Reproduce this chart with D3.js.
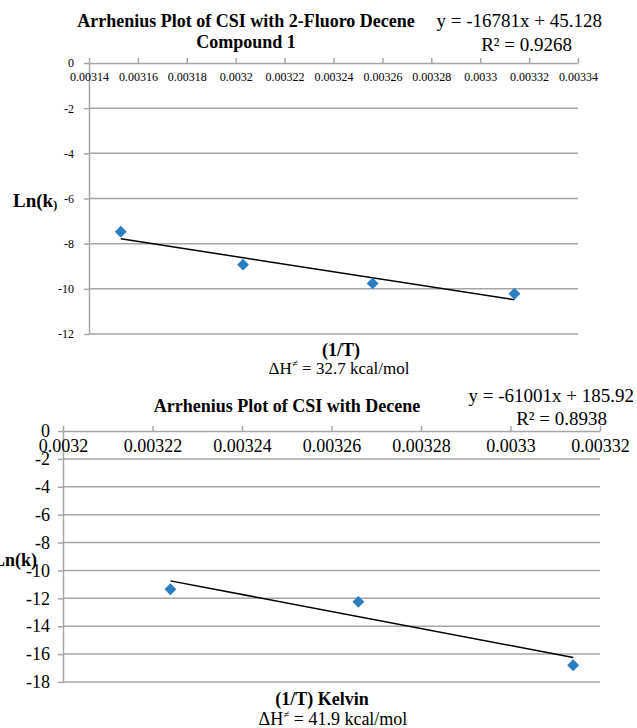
<!DOCTYPE html>
<html>
<head>
<meta charset="utf-8">
<script src="https://cdn.jsdelivr.net/npm/d3@7"></script>
<style>
  body { margin: 0; background: #fff; }
  svg text { font-family: "Liberation Serif", "DejaVu Serif", serif; fill: #000; }
</style>
</head>
<body>
<div id="chart"></div>
<script>
let width = 637;
let height = 728;

// top chart: 2-fluoro decene (compound 1)
let fluoroX = [0.003153, 0.003203, 0.003256, 0.003314];
let fluoroLnK = [-7.47, -8.93, -9.76, -10.22];
let fluoroFit = [-16781, 45.128];
let fluoroXTicks = [0.00314, 0.00316, 0.00318, 0.0032, 0.00322, 0.00324, 0.00326, 0.00328, 0.0033, 0.00332, 0.00334];
let fluoroXLabels = ["0.00314", "0.00316", "0.00318", "0.0032", "0.00322", "0.00324", "0.00326", "0.00328", "0.0033", "0.00332", "0.00334"];
let fluoroYTicks = [0, -2, -4, -6, -8, -10, -12];

// bottom chart: decene
let deceneX = [0.003224, 0.003266, 0.003314];
let deceneLnK = [-11.35, -12.25, -16.8];
let deceneFit = [-61001, 185.92];
let deceneXTicks = [0.0032, 0.00322, 0.00324, 0.00326, 0.00328, 0.0033, 0.00332];
let deceneXLabels = ["0.0032", "0.00322", "0.00324", "0.00326", "0.00328", "0.0033", "0.00332"];
let deceneYTicks = [0, -2, -4, -6, -8, -10, -12, -14, -16, -18];

let svg = d3.select("#chart")
	.append("svg")
	.attr("width", width).attr("height", height);

let serif = '"Liberation Serif", "DejaVu Serif", serif';
let gridColor = "#a6a6a6";
let dotColor = "#2a7fc2";

function drawPanel(cfg) {
	let x = d3.scaleLinear().domain(d3.extent(cfg.xTicks)).range([cfg.left, cfg.right]);
	let y = d3.scaleLinear().domain(d3.extent(cfg.yTicks)).range([cfg.bottom, cfg.top]);
	let g = svg.append("g");

	// gridlines
	g.selectAll(".grid").data(cfg.yTicks.filter(d => d != 0))
		.join("line")
		.attr("x1", cfg.left).attr("x2", cfg.right)
		.attr("y1", d => y(d)).attr("y2", d => y(d))
		.attr("stroke", gridColor).attr("stroke-width", 1.5);

	// y axis
	let yAxis = g.append("g").attr("transform", `translate(${cfg.left},0)`)
		.call(d3.axisLeft(y).tickValues(cfg.yTicks).tickFormat(d => String(d))
			.tickSize(5).tickSizeOuter(0).tickPadding(cfg.yPad));
	yAxis.selectAll("path, line").attr("stroke", gridColor).attr("stroke-width", 1.5);
	yAxis.selectAll("text").style("font-size", cfg.tickFont + "px")
		.style("font-family", serif).attr("fill", "#000");

	// x axis along ln(k) = 0, ticks pointing up, labels below
	let xAxis = g.append("g").attr("transform", `translate(0,${y(0)})`)
		.call(d3.axisBottom(x).tickValues(cfg.xTicks).tickFormat((d, i) => cfg.xLabels[i])
			.tickSize(-5).tickSizeOuter(0).tickPadding(cfg.xPad));
	xAxis.selectAll("path, line").attr("stroke", gridColor).attr("stroke-width", 1.5);
	xAxis.selectAll("text").style("font-size", cfg.tickFont + "px")
		.style("font-family", serif).attr("fill", "#000");

	// trendline from fitted equation
	let x0 = d3.min(cfg.xs), x1 = d3.max(cfg.xs);
	g.append("line")
		.attr("x1", x(x0)).attr("y1", y(cfg.fit[0] * x0 + cfg.fit[1]))
		.attr("x2", x(x1)).attr("y2", y(cfg.fit[0] * x1 + cfg.fit[1]))
		.attr("stroke", "#000").attr("stroke-width", 1.5);

	// diamond markers
	g.selectAll(".pt").data(cfg.xs.map((d, i) => [d, cfg.ys[i]]))
		.join("path")
		.attr("d", d3.symbol(d3.symbolDiamond2, 90))
		.attr("transform", d => `translate(${x(d[0])},${y(d[1])})`)
		.attr("fill", dotColor);
}

drawPanel({
	xs: fluoroX, ys: fluoroLnK, fit: fluoroFit,
	xTicks: fluoroXTicks, xLabels: fluoroXLabels, yTicks: fluoroYTicks,
	left: 89, right: 578, top: 63, bottom: 334,
	tickFont: 12, xPad: 9, yPad: 10
});

drawPanel({
	xs: deceneX, ys: deceneLnK, fit: deceneFit,
	xTicks: deceneXTicks, xLabels: deceneXLabels, yTicks: deceneYTicks,
	left: 63, right: 600, top: 431, bottom: 682,
	tickFont: 18, xPad: 8, yPad: 8
});

// titles
svg.append("text").attr("x", 246).attr("y", 27).attr("text-anchor", "middle")
	.attr("font-size", 18).attr("font-weight", "bold").text("Arrhenius Plot of CSI with 2-Fluoro Decene");
svg.append("text").attr("x", 246).attr("y", 48).attr("text-anchor", "middle")
	.attr("font-size", 18).attr("font-weight", "bold").text("Compound 1");
svg.append("text").attr("x", 287).attr("y", 412).attr("text-anchor", "middle")
	.attr("font-size", 18).attr("font-weight", "bold").text("Arrhenius Plot of CSI with Decene");

// trendline equations
svg.append("text").attr("x", 602).attr("y", 27).attr("text-anchor", "end")
	.attr("font-size", 19).text("y = -16781x + 45.128");
svg.append("text").attr("x", 572).attr("y", 51).attr("text-anchor", "end")
	.attr("font-size", 19).text("R² = 0.9268");
svg.append("text").attr("x", 634).attr("y", 402).attr("text-anchor", "end")
	.attr("font-size", 19).text("y = -61001x + 185.92");
svg.append("text").attr("x", 607).attr("y", 425).attr("text-anchor", "end")
	.attr("font-size", 19).text("R² = 0.8938");

// axis titles
let yl1 = svg.append("text").attr("x", 13).attr("y", 207).attr("font-size", 19).attr("font-weight", "bold");
yl1.append("tspan").text("Ln(k");
yl1.append("tspan").attr("font-size", 12).attr("dy", 2).text(")");
svg.append("text").attr("x", 341).attr("y", 356).attr("text-anchor", "middle")
	.attr("font-size", 18).attr("font-weight", "bold").text("(1/T)");
svg.append("text").attr("x", -7).attr("y", 566).attr("font-size", 18)
	.attr("font-weight", "bold").text("Ln(k)");
svg.append("text").attr("x", 322).attr("y", 705).attr("text-anchor", "middle")
	.attr("font-size", 18).attr("font-weight", "bold").text("(1/T) Kelvin");

// activation enthalpy notes
let dh1 = svg.append("text").attr("x", 339).attr("y", 374).attr("text-anchor", "middle").attr("font-size", 17);
dh1.append("tspan").text("ΔH");
dh1.append("tspan").attr("font-size", 11).attr("dy", -7).text("≠");
dh1.append("tspan").attr("dy", 7).text(" = 32.7 kcal/mol");
let dh2 = svg.append("text").attr("x", 333).attr("y", 725).attr("text-anchor", "middle").attr("font-size", 18);
dh2.append("tspan").text("ΔH");
dh2.append("tspan").attr("font-size", 11).attr("dy", -7).text("≠");
dh2.append("tspan").attr("dy", 7).text(" = 41.9 kcal/mol");
</script>
</body>
</html>
